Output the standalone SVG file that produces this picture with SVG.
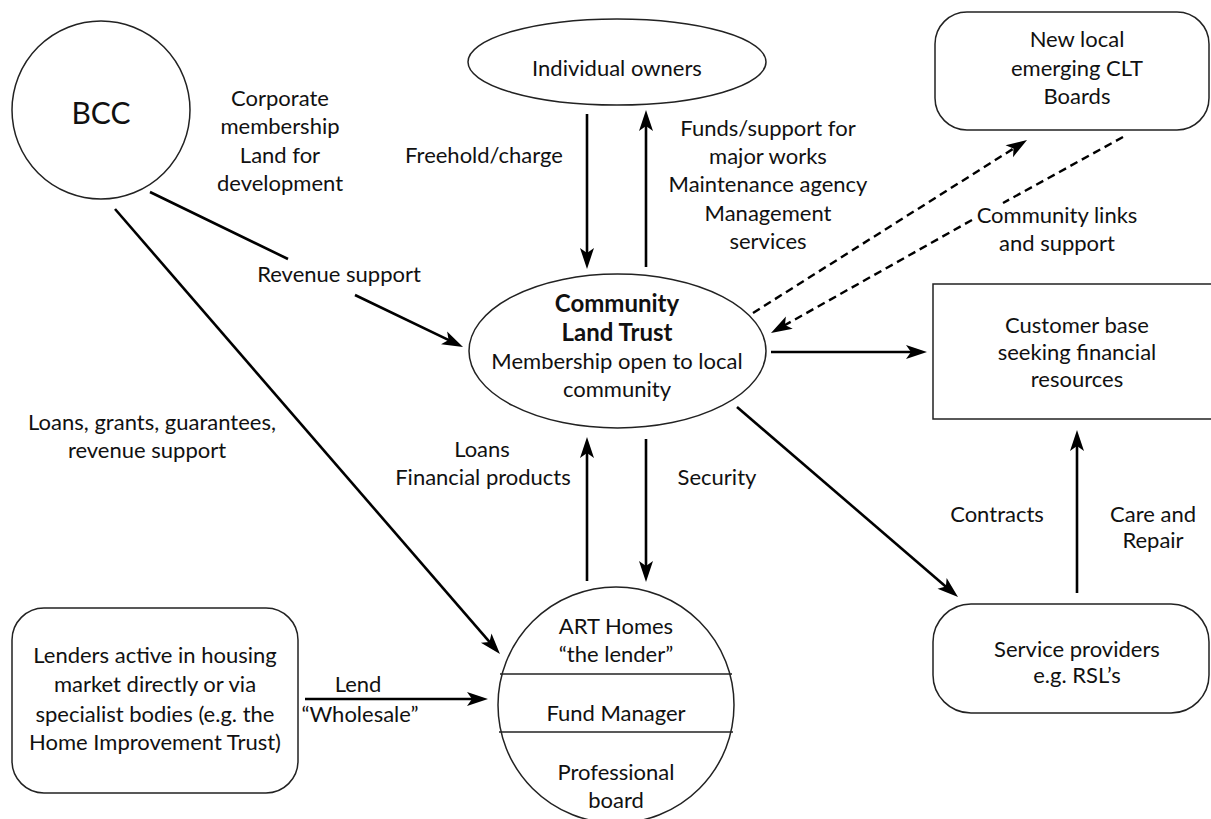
<svg xmlns="http://www.w3.org/2000/svg" width="1211" height="819" viewBox="0 0 1211 819">
<defs>
<style>
text{font-family:Lato,"Liberation Sans","DejaVu Sans",sans-serif;font-size:22px;fill:#111;text-anchor:middle}
.b{font-weight:bold;font-size:24px}
.node{fill:#fff;stroke:#222;stroke-width:1.5}
.div{stroke:#222;stroke-width:1.5;fill:none}
.c{fill:none;stroke:#000;stroke-width:2.6}
.d{fill:none;stroke:#000;stroke-width:2.4;stroke-dasharray:8 5}
</style>
<marker id="ah" markerUnits="userSpaceOnUse" viewBox="-10 -8 26 16" markerWidth="26" markerHeight="16" refX="0" refY="0" orient="auto">
<path d="M14,0 L-7,-7 L-2,0 L-7,7 Z" fill="#000"/>
</marker>
</defs>
<rect width="1211" height="819" fill="#fff"/>

<g id="connectors">
<path class="c" d="M150,192 L288,259 M355,295 L450.4,340.9" marker-end="url(#ah)"/>
<path class="c" d="M115,209 L490.8,643.4" marker-end="url(#ah)"/>
<path class="c" d="M587,114 L587,255" marker-end="url(#ah)"/>
<path class="c" d="M646,267 L646,124" marker-end="url(#ah)"/>
<path class="c" d="M587,581 L587,451" marker-end="url(#ah)"/>
<path class="c" d="M646,439 L646,568" marker-end="url(#ah)"/>
<path class="c" d="M305,699 L474,699" marker-end="url(#ah)"/>
<path class="c" d="M771,352 L913,352" marker-end="url(#ah)"/>
<path class="c" d="M737,407 L947.4,587.9" marker-end="url(#ah)"/>
<path class="c" d="M1077,593 L1077,444" marker-end="url(#ah)"/>
<path class="d" d="M753,313 L1015.2,147.5" marker-end="url(#ah)"/>
<path class="d" d="M1123,137 L1003,203 M972,220 L783.2,326.1" marker-end="url(#ah)"/>
<text x="280" y="106">Corporate</text>
<text x="280" y="134">membership</text>
<text x="280" y="163">Land for</text>
<text x="280" y="191">development</text>
<text x="339" y="282">Revenue support</text>
<text x="484" y="163">Freehold/charge</text>
<text x="768" y="136">Funds/support for</text>
<text x="768" y="164">major works</text>
<text x="768" y="192">Maintenance agency</text>
<text x="768" y="221">Management</text>
<text x="768" y="249">services</text>
<text x="1057" y="223">Community links</text>
<text x="1057" y="251">and support</text>
<text x="152" y="430">Loans, grants, guarantees,</text>
<text x="147" y="458">revenue support</text>
<text x="482" y="457">Loans</text>
<text x="483" y="485">Financial products</text>
<text x="717" y="485">Security</text>
<text x="997" y="522">Contracts</text>
<text x="1153" y="522">Care and</text>
<text x="1153" y="548">Repair</text>
<text x="358" y="692">Lend</text>
<text x="360" y="722">“Wholesale”</text>
</g>

<g id="bcc">
<circle class="node" cx="101" cy="110" r="89"/>
<text x="101" y="124" style="font-size:30px">BCC</text>
</g>

<g id="individual-owners">
<ellipse class="node" cx="617" cy="62" rx="149" ry="43"/>
<text x="617" y="76">Individual owners</text>
</g>

<g id="new-clt-boards">
<rect class="node" x="935" y="12" width="274" height="118" rx="32" ry="32"/>
<text x="1077" y="47">New local</text>
<text x="1077" y="76">emerging CLT</text>
<text x="1077" y="104">Boards</text>
</g>

<g id="clt">
<ellipse class="node" cx="617.5" cy="351" rx="148.5" ry="77"/>
<text class="b" x="617" y="312">Community</text>
<text class="b" x="617" y="341">Land Trust</text>
<text x="617" y="369">Membership open to local</text>
<text x="617" y="397">community</text>
</g>

<g id="customer-base">
<rect class="node" x="933" y="284" width="290" height="135"/>
<text x="1077" y="333">Customer base</text>
<text x="1077" y="360">seeking financial</text>
<text x="1077" y="387">resources</text>
</g>

<g id="service-providers">
<rect class="node" x="933" y="604" width="276" height="109" rx="38" ry="38"/>
<text x="1077" y="657">Service providers</text>
<text x="1077" y="683">e.g. RSL’s</text>
</g>

<g id="lenders">
<rect class="node" x="12" y="608" width="286" height="185" rx="32" ry="32"/>
<text x="155" y="663">Lenders active in housing</text>
<text x="155" y="692">market directly or via</text>
<text x="155" y="722">specialist bodies (e.g. the</text>
<text x="155" y="750">Home Improvement Trust)</text>
</g>

<g id="art-homes">
<circle class="node" cx="616" cy="705" r="118"/>
<line class="div" x1="500" y1="674" x2="732" y2="674"/>
<line class="div" x1="499" y1="732" x2="733" y2="732"/>
<text x="616" y="634">ART Homes</text>
<text x="616" y="662">“the lender”</text>
<text x="616" y="721">Fund Manager</text>
<text x="616" y="780">Professional</text>
<text x="616" y="808">board</text>
</g>
</svg>
